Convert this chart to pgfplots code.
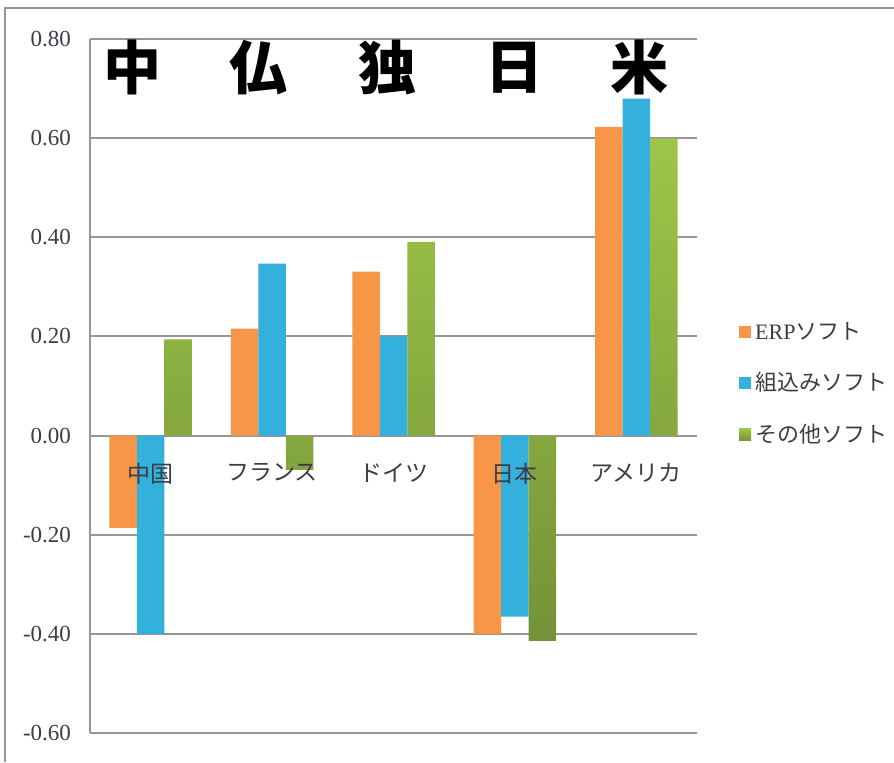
\documentclass[border=0pt]{standalone}
\usepackage{fontspec}
\setmainfont{Liberation Serif}
\newfontfamily\cjk{Noto Sans CJK JP}
\usepackage{pgfplots}
\pgfplotsset{compat=1.18}
\pgfplotsset{layers/mine/.define layer set={axis background,axis grid,axis ticks,axis lines,main,axis tick labels,axis descriptions,axis foreground}{
  grid style={/pgfplots/on layer=axis grid},
  tick style={/pgfplots/on layer=axis ticks},
  axis line style={/pgfplots/on layer=axis lines},
  label style={/pgfplots/on layer=axis descriptions},
  legend style={/pgfplots/on layer=axis descriptions},
  title style={/pgfplots/on layer=axis descriptions},
  ticklabel style={/pgfplots/on layer=axis tick labels},
  axis background@ style={/pgfplots/on layer=axis background},
}}
\definecolor{cOrange}{RGB}{247,150,70}
\definecolor{cBlue}{RGB}{52,176,220}
\definecolor{cGreenL}{RGB}{158,198,72}
\definecolor{cGreenD}{RGB}{116,146,56}
\definecolor{cGrid}{RGB}{150,150,150}
\definecolor{cText}{RGB}{60,60,70}
\begin{document}
\begin{tikzpicture}
\begin{axis}[
  set layers=mine,
  name=ax, scale only axis, width=303.5pt, height=347pt,
  xmin=-0.5, xmax=4.5, ymin=-0.6, ymax=0.8,
  axis y line=left, axis x line=middle,
  axis line style={cGrid, line width=1pt, -},
  hide obscured x ticks=false, hide obscured y ticks=false,
  ybar=0pt, bar width=13.75pt,
  xtick={0,1,2,3,4},
  xticklabels={中国,フランス,ドイツ,日本,アメリカ},
  xticklabel style={font=\cjk\fontsize{11.5}{11.5}\selectfont, text=cText, yshift=-10.5pt},
  ytick={-0.6,-0.4,-0.2,0,0.2,0.4,0.6,0.8},
  yticklabel style={font=\fontsize{11.5}{11.5}\selectfont, text=cText, xshift=-6pt},
  /pgf/number format/.cd, fixed, fixed zerofill, precision=2, assume math mode=true,
  /pgfplots/.cd,
  ymajorgrids, grid style={cGrid, line width=1pt},
  major tick length=0pt,
  clip=false,
  legend style={at={(rel axis cs:1.059,0.503)}, anchor=west, draw=none, fill=none,
    font=\fontsize{11}{11}\selectfont, text=cText, row sep=11pt},
  legend cell align=left,
  legend image code/.code={\fill[#1] (0pt,-3pt) rectangle (6pt,3pt);},
]
\addplot[fill=cOrange, draw=none] coordinates {(0,-0.186) (1,0.216) (2,0.331) (3,-0.400) (4,0.623)};
\addplot[fill=cBlue, draw=none] coordinates {(0,-0.400) (1,0.347) (2,0.200) (3,-0.365) (4,0.680)};
\addplot[top color=cGreenL, bottom color=cGreenD, draw=none] coordinates {(0,0.194) (1,-0.069) (2,0.391) (3,-0.414) (4,0.599)};
\legend{ERP{\cjk ソフト},{\cjk 組込みソフト},{\cjk その他ソフト}}
\node[font=\cjk\bfseries\fontsize{29}{29}\selectfont] at (axis cs:-0.15,0.742) {中};
\node[font=\cjk\bfseries\fontsize{29}{29}\selectfont] at (axis cs:0.89,0.742) {仏};
\node[font=\cjk\bfseries\fontsize{29}{29}\selectfont] at (axis cs:1.95,0.742) {独};
\node[font=\cjk\bfseries\fontsize{29}{29}\selectfont] at (axis cs:3.0,0.742) {日};
\node[font=\cjk\bfseries\fontsize{29}{29}\selectfont] at (axis cs:4.03,0.742) {米};
\end{axis}
\draw[cGrid, line width=1pt] (ax.south west) ++(-42.5pt,-14.5pt) -- ++(0pt,377pt) -- ++(444.5pt,0pt);
\pgfresetboundingbox
\path[use as bounding box] (ax.south west) ++(-45pt,-14.5pt) rectangle ++(447pt,381pt);
\end{tikzpicture}
\end{document}
